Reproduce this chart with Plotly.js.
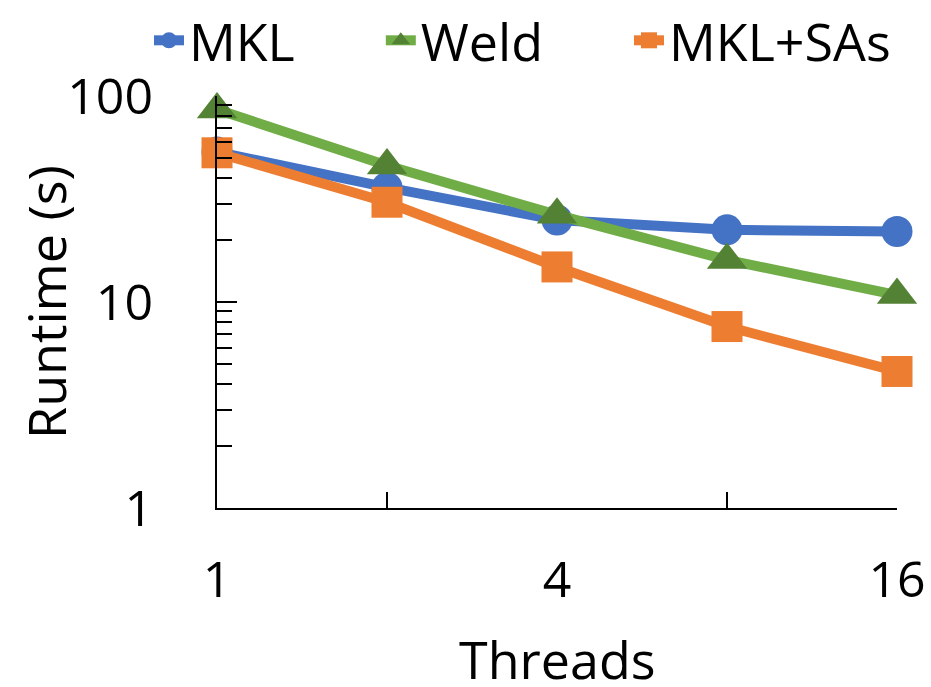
<!DOCTYPE html>
<html>
<head>
<meta charset="utf-8">
<script src="https://cdn.plot.ly/plotly-3.0.1.min.js"></script>
<style>html,body{margin:0;padding:0;background:#fff;}#chart{width:931px;height:687px;}</style>
</head>
<body>
<div id="chart"></div>
<script>
const threads = [1, 2, 4, 8, 16];
const mkl = [53.5, 36, 25, 22.4, 22.0];
const weld = [86, 46, 26.5, 16, 10.8];
const mklSAs = [53, 30.5, 14.8, 7.6, 4.6];
const seriesNames = ['MKL', 'Weld', 'MKL+SAs'];
const xLabelVals = [1, 4, 16];
const xLabelText = ['1', '4', '16'];
const xTickVals = [2, 8, 16];
const yTickVals = [1, 10, 100];
const yTickText = ['1', '10', '100'];
const yMinorVals = [2,3,4,5,6,7,8,9,20,30,40,50,60,70,80,90];

const FONT = 'Open Sans, Noto Sans, sans-serif';
const pad = n => '\u00a0'.repeat(n);
const traces = [
  {x: threads, y: mkl, name: seriesNames[0] + pad(6), mode: 'lines+markers', cliponaxis: false,
   line: {color: '#4472C4', width: 10}, marker: {symbol: 'circle', size: 31, color: '#4472C4'}},
  {x: threads, y: weld, name: seriesNames[1] + pad(6), mode: 'lines+markers', cliponaxis: false,
   line: {color: '#70AD47', width: 10}, marker: {symbol: 'triangle-up', size: 35, color: '#548235'}},
  {x: threads, y: mklSAs, name: seriesNames[2], mode: 'lines+markers', cliponaxis: false,
   line: {color: '#ED7D31', width: 10}, marker: {symbol: 'square', size: 31, color: '#ED7D31'}},
  {x: [threads[0]], y: [mkl[0]], xaxis: 'x2', mode: 'markers', showlegend: false, hoverinfo: 'skip',
   marker: {opacity: 0, size: 1}}
];

const layout = {
  width: 931, height: 687,
  margin: {l: 217, r: 34, t: 96, b: 179, autoexpand: false},
  paper_bgcolor: '#ffffff', plot_bgcolor: '#ffffff',
  font: {family: FONT, size: 52, color: '#000'},
  showlegend: true,
  legend: {orientation: 'h', x: -0.1, xanchor: 'left', y: 1.233, yanchor: 'top',
           font: {family: FONT, size: 52, color: '#000'}, bgcolor: 'rgba(0,0,0,0)', traceorder: 'normal'},
  xaxis: {type: 'log', range: [0, Math.log10(16)], tickmode: 'array', tickvals: xLabelVals, ticktext: xLabelText,
          ticks: '', showgrid: false, zeroline: false, showline: true, linecolor: '#000', linewidth: 2,
          ticklabelstandoff: 27, tickfont: {family: FONT, size: 50}},
  xaxis2: {type: 'log', range: [0, Math.log10(16)], overlaying: 'x', side: 'bottom', tickmode: 'array',
           tickvals: xTickVals, ticks: 'inside', ticklen: 16, tickwidth: 2, tickcolor: '#000',
           showticklabels: false, showgrid: false, zeroline: false, showline: false},
  yaxis: {type: 'log', range: [0, 2], tickmode: 'array', tickvals: yTickVals, ticktext: yTickText,
          ticks: 'inside', ticklen: 20, tickwidth: 2, tickcolor: '#000',
          minor: {tickmode: 'array', tickvals: yMinorVals, ticks: 'inside', ticklen: 15, tickwidth: 2, tickcolor: '#000', showgrid: false},
          showgrid: false, zeroline: false, showline: true, linecolor: '#000', linewidth: 2,
          ticklabelstandoff: 52, tickfont: {family: FONT, size: 50}},
  annotations: [
    {text: 'Runtime (s)', xref: 'paper', yref: 'paper', x: -0.253, y: 0.5, textangle: -90,
     showarrow: false, xanchor: 'center', yanchor: 'middle', font: {family: FONT, size: 52, color: '#000'}},
    {text: 'Threads', xref: 'paper', yref: 'paper', x: 0.5, y: -0.365, height: 58, valign: 'middle',
     showarrow: false, xanchor: 'center', yanchor: 'middle', font: {family: FONT, size: 52, color: '#000'}}
  ]
};

Plotly.newPlot('chart', traces, layout, {displayModeBar: false, staticPlot: true});
</script>
</body>
</html>
